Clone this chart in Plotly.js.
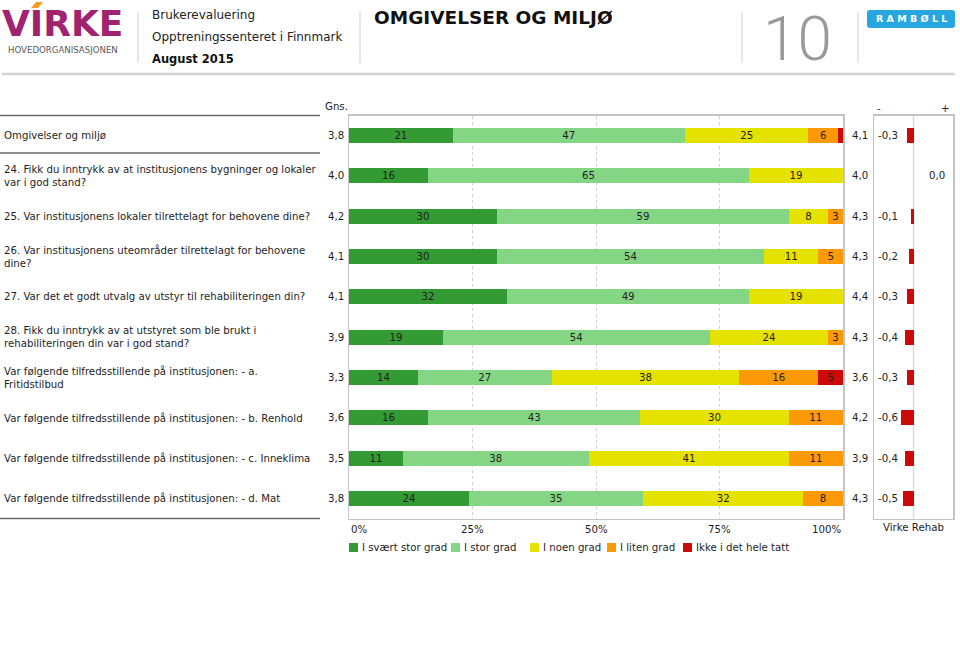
<!DOCTYPE html>
<html>
<head>
<meta charset="utf-8">
<script src="https://cdn.plot.ly/plotly-3.0.1.min.js"></script>
<style>html,body{margin:0;padding:0;background:#fff;}#chart{width:960px;height:659px;}</style>
</head>
<body>
<div id="chart"></div>
<script>
// ---------- data ----------
const categories = [
  "Omgivelser og miljø",
  "24. Fikk du inntrykk av at institusjonens bygninger og lokaler<br>var i god stand?",
  "25. Var institusjonens lokaler tilrettelagt for behovene dine?",
  "26. Var institusjonens uteområder tilrettelagt for behovene<br>dine?",
  "27. Var det et godt utvalg av utstyr til rehabiliteringen din?",
  "28. Fikk du inntrykk av at utstyret som ble brukt i<br>rehabiliteringen din var i god stand?",
  "Var følgende tilfredsstillende på institusjonen: - a.<br>Fritidstilbud",
  "Var følgende tilfredsstillende på institusjonen: - b. Renhold",
  "Var følgende tilfredsstillende på institusjonen: - c. Inneklima",
  "Var følgende tilfredsstillende på institusjonen: - d. Mat"
];
const seriesNames = ["I svært stor grad", "I stor grad", "I noen grad", "I liten grad", "Ikke i det hele tatt"];
const svaertStorGrad = [21, 16, 30, 30, 32, 19, 14, 16, 11, 24];
const storGrad       = [47, 65, 59, 54, 49, 54, 27, 43, 38, 35];
const noenGrad       = [25, 19,  8, 11, 19, 24, 38, 30, 41, 32];
const litenGrad      = [ 6,  0,  3,  5,  0,  3, 16, 11, 11,  8];
const ikkeGrad       = [ 1,  0,  0,  0,  0,  0,  5,  0,  0,  0];
const gnsValues   = [3.8, 4.0, 4.2, 4.1, 4.1, 3.9, 3.3, 3.6, 3.5, 3.8];
const virkeValues = [4.1, 4.0, 4.3, 4.3, 4.4, 4.3, 3.6, 4.2, 3.9, 4.3];
const diffValues  = [-0.3, 0.0, -0.1, -0.2, -0.3, -0.4, -0.3, -0.6, -0.4, -0.5];
const xTickValues = [0, 25, 50, 75, 100];
const xTickLabels = ["0%", "25%", "50%", "75%", "100%"];

// ---------- styling ----------
const seriesColors = ["#349a34", "#84d684", "#e6e200", "#fb9a06", "#cc0a0a"];
const seriesData = [svaertStorGrad, storGrad, noenGrad, litenGrad, ikkeGrad];
const FONT = "DejaVu Sans, Verdana, sans-serif";
const FS = 10.2;
const TXT = "#1e1e1e";
const W = 960, H = 659;
const px = x => x / W;
const py = y => 1 - y / H;
const fmt = v => v.toFixed(1).replace(".", ",");
const rows = categories.map((_, i) => i);
// rounded percentages may add up to 99 or 101: scale each row to 100 %
const rowTotals = rows.map(i => seriesData.reduce((s, arr) => s + arr[i], 0));

const traces = seriesData.map((vals, s) => ({
  type: "bar", orientation: "h",
  name: seriesNames[s],
  y: rows, x: vals.map((v, i) => v / rowTotals[i] * 100),
  xaxis: "x", yaxis: "y",
  width: 0.37,
  marker: { color: seriesColors[s], line: { width: 0 } },
  text: vals.map(v => v >= 2 ? String(v) : ""),
  textposition: "inside",
  insidetextanchor: "middle",
  constraintext: "none",
  textangle: 0,
  textfont: { family: FONT, size: FS, color: TXT },
  hoverinfo: "skip",
  showlegend: false
}));

traces.push({
  type: "bar", orientation: "h",
  name: "Virke Rehab",
  y: rows, x: diffValues,
  xaxis: "x2", yaxis: "y2",
  width: 0.37,
  marker: { color: "#cc0a0a", line: { width: 0 } },
  hoverinfo: "skip",
  showlegend: false
});

const annotations = [];
const shapes = [];

// zero line of the difference panel
shapes.push({ type: "line", xref: "x2", yref: "paper", x0: 0, x1: 0, y0: py(518.5), y1: py(115.5),
  layer: "below", line: { color: "#dcdcdc", width: 1.5 } });

// left category labels, averages and differences
rows.forEach(i => {
  annotations.push({ xref: "paper", yref: "y", x: px(2), y: i, xanchor: "left", yanchor: "middle",
    text: categories[i], showarrow: false, align: "left", font: { family: FONT, size: FS, color: TXT } });
  annotations.push({ xref: "paper", yref: "y", x: px(346), y: i, xanchor: "right", yanchor: "middle",
    text: fmt(gnsValues[i]), showarrow: false, font: { family: FONT, size: FS, color: TXT } });
  annotations.push({ xref: "paper", yref: "y", x: px(870), y: i, xanchor: "right", yanchor: "middle",
    text: fmt(virkeValues[i]), showarrow: false, font: { family: FONT, size: FS, color: TXT } });
  const d = diffValues[i];
  annotations.push({ xref: "paper", yref: "y", x: d < 0 ? px(876) : px(947), y: i,
    xanchor: d < 0 ? "left" : "right", yanchor: "middle",
    text: fmt(d), showarrow: false, font: { family: FONT, size: FS, color: TXT } });
});

// x tick labels
xTickValues.forEach((v, k) => {
  annotations.push({ xref: "x", yref: "paper", x: v, y: py(529),
    xanchor: k === 0 ? "left" : (k === xTickValues.length - 1 ? "right" : "center"), yanchor: "middle",
    text: xTickLabels[k], showarrow: false, font: { family: FONT, size: FS, color: TXT } });
});

// column headers
annotations.push({ xref: "paper", yref: "paper", x: px(323), y: py(106), xanchor: "left", yanchor: "middle",
  text: "Gns.", showarrow: false, font: { family: FONT, size: FS, color: TXT } });
annotations.push({ xref: "paper", yref: "paper", x: px(875), y: py(108), xanchor: "left", yanchor: "middle",
  text: "-", showarrow: false, font: { family: FONT, size: FS, color: TXT } });
annotations.push({ xref: "paper", yref: "paper", x: px(952), y: py(108), xanchor: "right", yanchor: "middle",
  text: "+", showarrow: false, font: { family: FONT, size: FS, color: TXT } });
annotations.push({ xref: "paper", yref: "paper", x: px(913), y: py(527), xanchor: "center", yanchor: "middle",
  text: "Virke Rehab", showarrow: false, font: { family: FONT, size: FS, color: TXT } });

// legend (custom, compact)
const legendX = [349, 451, 530, 607, 683];
seriesNames.forEach((n, s) => {
  shapes.push({ type: "rect", xref: "paper", yref: "paper",
    x0: px(legendX[s]), x1: px(legendX[s] + 9), y0: py(552), y1: py(543),
    fillcolor: seriesColors[s], line: { width: 0 } });
  annotations.push({ xref: "paper", yref: "paper", x: px(legendX[s] + 11), y: py(547.5), xanchor: "left", yanchor: "middle",
    text: n, showarrow: false, font: { family: FONT, size: FS, color: TXT } });
});

// left separator lines
[115.5, 153, 518.5].forEach(yy => {
  shapes.push({ type: "line", xref: "paper", yref: "paper", x0: 0, x1: px(320), y0: py(yy), y1: py(yy),
    line: { color: "#6a6a6a", width: 1.3 } });
});

// ---------- header ----------
shapes.push({ type: "line", xref: "paper", yref: "paper", x0: px(2), x1: px(955), y0: py(74), y1: py(74),
  line: { color: "#d2d2d2", width: 2.5 } });
[138, 360, 742, 858].forEach(xx => {
  shapes.push({ type: "line", xref: "paper", yref: "paper", x0: px(xx), x1: px(xx), y0: py(12), y1: py(63),
    line: { color: "#cfcfcf", width: 1 } });
});
// Rambøll badge (rounded)
(function () {
  const x0 = 867, x1 = 955, y0 = 10, y1 = 28, r = 3;
  const p = (x, y) => px(x) + "," + py(y);
  const path = "M" + p(x0 + r, y0) + " L" + p(x1 - r, y0) + " Q" + p(x1, y0) + " " + p(x1, y0 + r) +
    " L" + p(x1, y1 - r) + " Q" + p(x1, y1) + " " + p(x1 - r, y1) +
    " L" + p(x0 + r, y1) + " Q" + p(x0, y1) + " " + p(x0, y1 - r) +
    " L" + p(x0, y0 + r) + " Q" + p(x0, y0) + " " + p(x0 + r, y0) + " Z";
  shapes.push({ type: "path", xref: "paper", yref: "paper", path: path, fillcolor: "#27a6df", line: { width: 0 } });
})();
annotations.push({ xref: "paper", yref: "paper", x: px(911), y: py(19), xanchor: "center", yanchor: "middle",
  text: "R A M B Ø L L", showarrow: false, font: { family: "DejaVu Sans", size: 9.5, color: "#ffffff", weight: 700 } });

// Virke logo
annotations.push({ xref: "paper", yref: "paper", x: px(0), y: py(24), xanchor: "left", yanchor: "middle",
  text: "VIRKE", showarrow: false, font: { family: "DejaVu Sans", size: 36, color: "#a0236f", weight: 700 } });
shapes.push({ type: "path", xref: "paper", yref: "paper",
  path: "M" + px(31) + "," + py(8) + " L" + px(36) + "," + py(2) + " L" + px(43) + "," + py(2) + " L" + px(38) + "," + py(8) + " Z",
  fillcolor: "#f39a2b", line: { width: 0 } });
annotations.push({ xref: "paper", yref: "paper", x: px(63), y: py(50), xanchor: "center", yanchor: "middle",
  text: "HOVEDORGANISASJONEN", showarrow: false, font: { family: "DejaVu Sans", size: 8.6, color: "#5a5a5a" } });

annotations.push({ xref: "paper", yref: "paper", x: px(150), y: py(15), xanchor: "left", yanchor: "middle",
  text: "Brukerevaluering", showarrow: false, font: { family: "DejaVu Sans", size: 12, color: "#222" } });
annotations.push({ xref: "paper", yref: "paper", x: px(150), y: py(37), xanchor: "left", yanchor: "middle",
  text: "Opptreningssenteret i Finnmark", showarrow: false, font: { family: "DejaVu Sans", size: 12, color: "#222" } });
annotations.push({ xref: "paper", yref: "paper", x: px(150), y: py(59), xanchor: "left", yanchor: "middle",
  text: "August 2015", showarrow: false, font: { family: "DejaVu Sans", size: 11.5, color: "#111", weight: 700 } });
annotations.push({ xref: "paper", yref: "paper", x: px(372), y: py(18), xanchor: "left", yanchor: "middle",
  text: "OMGIVELSER OG MILJØ", showarrow: false, font: { family: "DejaVu Sans", size: 18.5, color: "#111", weight: 700 } });
annotations.push({ xref: "paper", yref: "paper", x: px(797), y: py(38), xanchor: "center", yanchor: "middle",
  text: "10", showarrow: false, font: { family: "Roboto", size: 62, color: "#9a9a9a", weight: 300 } });

const frame = { showline: true, mirror: true, linecolor: "#c4c4c4", linewidth: 1.5 };

const layout = {
  width: W, height: H,
  margin: { l: 0, r: 0, t: 0, b: 0 },
  paper_bgcolor: "#ffffff", plot_bgcolor: "#ffffff",
  barmode: "stack",
  showlegend: false,
  font: { family: FONT, size: FS, color: TXT },
  xaxis: Object.assign({}, frame, {
    domain: [px(349), px(843)], range: [0, 100], fixedrange: true,
    tickvals: xTickValues, showticklabels: false, ticks: "",
    showgrid: true, gridcolor: "#cfcfcf", griddash: "3px,3px", gridwidth: 1, zeroline: false
  }),
  yaxis: Object.assign({}, frame, {
    domain: [py(518.5), py(115.5)], range: [9.5, -0.5], fixedrange: true,
    showticklabels: false, ticks: "", showgrid: false, zeroline: false
  }),
  xaxis2: Object.assign({}, frame, {
    domain: [px(874), px(953)], range: [-1.9, 1.9], anchor: "y2", fixedrange: true,
    showticklabels: false, ticks: "", showgrid: false, zeroline: false
  }),
  yaxis2: Object.assign({}, frame, {
    domain: [py(518.5), py(115.5)], range: [9.5, -0.5], anchor: "x2", fixedrange: true,
    showticklabels: false, ticks: "", showgrid: false, zeroline: false
  }),
  annotations: annotations,
  shapes: shapes
};

Plotly.newPlot("chart", traces, layout, { displayModeBar: false, staticPlot: true });
</script>
</body>
</html>
